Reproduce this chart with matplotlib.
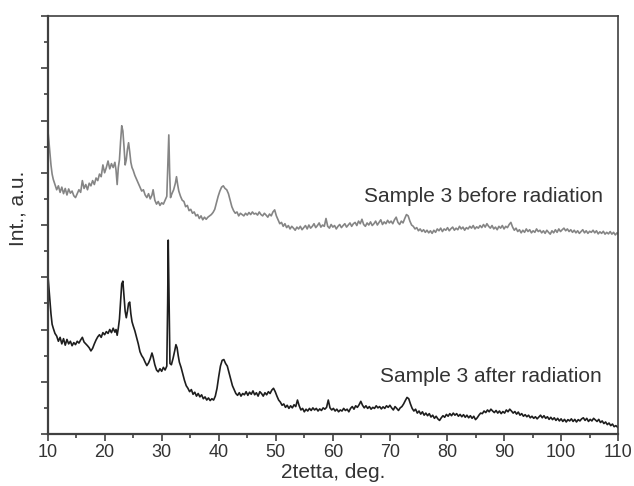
import numpy as np
import matplotlib.pyplot as plt
from matplotlib.ticker import MultipleLocator, NullFormatter

plt.rcParams['font.family'] = ['Liberation Sans', 'DejaVu Sans']

#угол 2theta и интенсивность - образец до облучения
tt_before = [10.0, 10.2, 10.4, 10.6, 10.8, 11.0, 11.3, 11.6, 11.9, 12.2, 12.5, 12.8, 13.1, 13.4, 13.7,
             14.0, 14.3, 14.6, 14.9, 15.2, 15.5, 15.8, 16.1, 16.4, 16.7, 17.0, 17.3, 17.6, 17.9, 18.2,
             18.5, 18.8, 19.1, 19.4, 19.7, 20.0, 20.3, 20.6, 20.9, 21.2, 21.5, 21.8, 22.0, 22.2, 22.4,
             22.6, 22.8, 23.0, 23.2, 23.4, 23.6, 23.8, 24.0, 24.2, 24.4, 24.6, 24.8, 25.0, 25.3, 25.6,
             25.9, 26.2, 26.5, 26.8, 27.1, 27.4, 27.7, 28.0, 28.3, 28.5, 28.8, 29.1, 29.4, 29.7, 30.0,
             30.3, 30.6, 30.9, 31.1, 31.25, 31.4, 31.55, 31.8, 32.1, 32.4, 32.6, 32.8, 33.0, 33.3, 33.6,
             33.9, 34.2, 34.5, 34.8, 35.1, 35.4, 35.7, 36.0, 36.3, 36.6, 36.9, 37.2, 37.5, 37.8, 38.1,
             38.4, 38.7, 39.0, 39.3, 39.6, 39.9, 40.2, 40.5, 40.8, 41.1, 41.4, 41.7, 42.0, 42.3, 42.6,
             42.9, 43.2, 43.5, 43.8, 44.1, 44.4, 44.7, 45.0, 45.3, 45.6, 45.9, 46.2, 46.5, 46.8, 47.1,
             47.4, 47.7, 48.0, 48.3, 48.6, 48.9, 49.2, 49.5, 49.8, 50.1, 50.4, 50.7, 51.0, 51.3, 51.6,
             51.9, 52.2, 52.5, 52.8, 53.1, 53.4, 53.7, 54.0, 54.3, 54.6, 54.9, 55.2, 55.5, 55.8, 56.1,
             56.4, 56.7, 57.0, 57.3, 57.6, 57.9, 58.2, 58.5, 58.8, 59.1, 59.4, 59.7, 60.0, 60.3, 60.6,
             60.9, 61.2, 61.5, 61.8, 62.1, 62.4, 62.7, 63.0, 63.3, 63.6, 63.9, 64.2, 64.5, 64.8, 65.1,
             65.4, 65.7, 66.0, 66.3, 66.6, 66.9, 67.2, 67.5, 67.8, 68.1, 68.4, 68.7, 69.0, 69.3, 69.6,
             69.9, 70.2, 70.5, 70.8, 71.1, 71.4, 71.7, 72.0, 72.3, 72.6, 72.9, 73.2, 73.5, 73.8, 74.1,
             74.4, 74.7, 75.0, 75.3, 75.6, 75.9, 76.2, 76.5, 76.8, 77.1, 77.4, 77.7, 78.0, 78.3, 78.6,
             78.9, 79.2, 79.5, 79.8, 80.1, 80.4, 80.7, 81.0, 81.3, 81.6, 81.9, 82.2, 82.5, 82.8, 83.1,
             83.4, 83.7, 84.0, 84.3, 84.6, 84.9, 85.2, 85.5, 85.8, 86.1, 86.4, 86.7, 87.0, 87.3, 87.6,
             87.9, 88.2, 88.5, 88.8, 89.1, 89.4, 89.7, 90.0, 90.3, 90.6, 90.9, 91.2, 91.5, 91.8, 92.1,
             92.4, 92.7, 93.0, 93.3, 93.6, 93.9, 94.2, 94.5, 94.8, 95.1, 95.4, 95.7, 96.0, 96.3, 96.6,
             96.9, 97.2, 97.5, 97.8, 98.1, 98.4, 98.7, 99.0, 99.3, 99.6, 99.9, 100.2, 100.5, 100.8, 101.1,
             101.4, 101.7, 102.0, 102.3, 102.6, 102.9, 103.2, 103.5, 103.8, 104.1, 104.4, 104.7, 105.0, 105.3, 105.6,
             105.9, 106.2, 106.5, 106.8, 107.1, 107.4, 107.7, 108.0, 108.3, 108.6, 108.9, 109.2, 109.5, 109.8, 110.0]
int_before = [11.75, 11.30, 10.80, 10.30, 9.95, 9.75, 9.55, 9.35, 9.50, 9.25, 9.45, 9.20, 9.40, 9.15, 9.38,
              9.22, 9.30, 9.12, 9.05, 9.20, 9.35, 9.25, 9.70, 9.40, 9.55, 9.35, 9.60, 9.50, 9.70, 9.55,
              9.80, 9.70, 9.95, 9.85, 10.30, 10.00, 10.20, 10.45, 10.15, 10.35, 10.20, 10.40, 10.10, 9.55, 10.20,
              10.50, 11.20, 11.80, 11.60, 11.00, 10.30, 10.50, 10.90, 11.15, 10.80, 10.40, 10.20, 10.10, 9.90, 9.75,
              9.60, 9.45, 9.30, 9.35, 9.15, 9.05, 9.20, 9.00, 9.15, 9.35, 8.95, 8.80, 8.90, 8.75, 8.85,
              8.80, 8.95, 9.10, 10.50, 11.45, 10.00, 9.05, 9.20, 9.35, 9.60, 9.85, 9.55, 9.30, 9.10, 8.95,
              8.90, 8.70, 8.75, 8.55, 8.60, 8.45, 8.50, 8.35, 8.40, 8.25, 8.35, 8.20, 8.30, 8.22, 8.30,
              8.35, 8.40, 8.48, 8.60, 8.85, 9.10, 9.30, 9.45, 9.50, 9.40, 9.35, 9.20, 8.95, 8.70, 8.55,
              8.45, 8.50, 8.35, 8.45, 8.40, 8.35, 8.45, 8.38, 8.48, 8.40, 8.50, 8.42, 8.45, 8.38, 8.50,
              8.40, 8.35, 8.45, 8.38, 8.30, 8.42, 8.35, 8.50, 8.58, 8.35, 8.20, 8.05, 8.10, 7.95, 8.05,
              7.90, 7.98, 7.85, 7.95, 7.88, 7.80, 7.92, 7.85, 7.95, 7.82, 7.90, 7.98, 7.85, 8.00, 7.88,
              7.95, 8.05, 7.90, 7.98, 8.08, 7.92, 8.00, 7.95, 8.25, 7.95, 7.88, 8.02, 7.92, 7.98, 7.85,
              7.95, 8.02, 7.90, 7.98, 8.05, 7.92, 8.00, 8.08, 7.95, 8.05, 8.10, 7.98, 8.15, 8.05, 8.22,
              8.02, 7.95, 8.08, 8.00, 8.12, 7.98, 8.05, 8.15, 8.00, 8.10, 8.20, 8.02, 8.12, 8.05, 8.18,
              8.08, 8.15, 8.05, 8.20, 8.30, 8.10, 8.02, 8.15, 8.08, 8.25, 8.40, 8.35, 8.15, 8.00, 7.95,
              7.85, 7.90, 7.78, 7.85, 7.75, 7.82, 7.72, 7.80, 7.70, 7.78, 7.68, 7.80, 7.72, 7.85, 7.78,
              7.88, 7.75, 7.85, 7.80, 7.90, 7.78, 7.86, 7.92, 7.80, 7.88, 7.82, 7.95, 7.85, 7.92, 7.80,
              7.90, 7.85, 7.95, 7.88, 7.98, 7.85, 7.93, 7.88, 7.98, 7.90, 8.02, 7.92, 8.05, 7.95, 7.88,
              7.98, 7.85, 7.92, 7.82, 7.95, 7.88, 7.98, 7.85, 7.95, 7.90, 8.02, 8.10, 7.92, 7.80, 7.88,
              7.75, 7.82, 7.70, 7.80, 7.72, 7.85, 7.75, 7.82, 7.70, 7.78, 7.72, 7.85, 7.75, 7.80, 7.70,
              7.78, 7.68, 7.80, 7.72, 7.65, 7.78, 7.70, 7.82, 7.72, 7.85, 7.75, 7.82, 7.88, 7.78, 7.85,
              7.75, 7.82, 7.72, 7.80, 7.70, 7.78, 7.68, 7.75, 7.82, 7.70, 7.78, 7.68, 7.76, 7.72, 7.80,
              7.70, 7.78, 7.66, 7.74, 7.68, 7.76, 7.65, 7.72, 7.66, 7.75, 7.65, 7.72, 7.62, 7.70, 7.66]

#образец после облучения
tt_after = [10.0, 10.2, 10.4, 10.6, 10.8, 11.0, 11.3, 11.6, 11.9, 12.2, 12.5, 12.8, 13.1, 13.4, 13.7,
            14.0, 14.3, 14.6, 14.9, 15.2, 15.5, 15.8, 16.1, 16.4, 16.7, 17.0, 17.3, 17.6, 17.9, 18.2,
            18.5, 18.8, 19.1, 19.4, 19.7, 20.0, 20.3, 20.6, 20.9, 21.2, 21.5, 21.8, 22.0, 22.2, 22.4,
            22.6, 22.8, 23.0, 23.2, 23.4, 23.6, 23.8, 24.0, 24.2, 24.4, 24.6, 24.8, 25.0, 25.3, 25.6,
            25.9, 26.2, 26.5, 26.8, 27.1, 27.4, 27.7, 28.0, 28.3, 28.5, 28.8, 29.1, 29.4, 29.7, 30.0,
            30.3, 30.6, 30.9, 31.05, 31.15, 31.3, 31.45, 31.7, 32.0, 32.3, 32.5, 32.7, 32.9, 33.1, 33.4,
            33.7, 34.0, 34.3, 34.6, 34.9, 35.2, 35.5, 35.8, 36.1, 36.4, 36.7, 37.0, 37.3, 37.6, 37.9,
            38.2, 38.5, 38.8, 39.1, 39.4, 39.7, 40.0, 40.3, 40.6, 40.9, 41.2, 41.5, 41.8, 42.1, 42.4,
            42.7, 43.0, 43.3, 43.6, 43.9, 44.2, 44.5, 44.8, 45.1, 45.4, 45.7, 46.0, 46.3, 46.6, 46.9,
            47.2, 47.5, 47.8, 48.1, 48.4, 48.7, 49.0, 49.3, 49.6, 49.9, 50.2, 50.5, 50.8, 51.1, 51.4,
            51.7, 52.0, 52.3, 52.6, 52.9, 53.2, 53.5, 53.8, 54.1, 54.4, 54.7, 55.0, 55.3, 55.6, 55.9,
            56.2, 56.5, 56.8, 57.1, 57.4, 57.7, 58.0, 58.3, 58.6, 58.9, 59.2, 59.5, 59.8, 60.1, 60.4,
            60.7, 61.0, 61.3, 61.6, 61.9, 62.2, 62.5, 62.8, 63.1, 63.4, 63.7, 64.0, 64.3, 64.6, 64.9,
            65.2, 65.5, 65.8, 66.1, 66.4, 66.7, 67.0, 67.3, 67.6, 67.9, 68.2, 68.5, 68.8, 69.1, 69.4,
            69.7, 70.0, 70.3, 70.6, 70.9, 71.2, 71.5, 71.8, 72.1, 72.4, 72.7, 73.0, 73.3, 73.6, 73.9,
            74.2, 74.5, 74.8, 75.1, 75.4, 75.7, 76.0, 76.3, 76.6, 76.9, 77.2, 77.5, 77.8, 78.1, 78.4,
            78.7, 79.0, 79.3, 79.6, 79.9, 80.2, 80.5, 80.8, 81.1, 81.4, 81.7, 82.0, 82.3, 82.6, 82.9,
            83.2, 83.5, 83.8, 84.1, 84.4, 84.7, 85.0, 85.3, 85.6, 85.9, 86.2, 86.5, 86.8, 87.1, 87.4,
            87.7, 88.0, 88.3, 88.6, 88.9, 89.2, 89.5, 89.8, 90.1, 90.4, 90.7, 91.0, 91.3, 91.6, 91.9,
            92.2, 92.5, 92.8, 93.1, 93.4, 93.7, 94.0, 94.3, 94.6, 94.9, 95.2, 95.5, 95.8, 96.1, 96.4,
            96.7, 97.0, 97.3, 97.6, 97.9, 98.2, 98.5, 98.8, 99.1, 99.4, 99.7, 100.0, 100.3, 100.6, 100.9,
            101.2, 101.5, 101.8, 102.1, 102.4, 102.7, 103.0, 103.3, 103.6, 103.9, 104.2, 104.5, 104.8, 105.1, 105.4,
            105.7, 106.0, 106.3, 106.6, 106.9, 107.2, 107.5, 107.8, 108.1, 108.4, 108.7, 109.0, 109.3, 109.6, 110.0]
int_after = [6.25, 5.70, 5.10, 4.60, 4.20, 4.05, 3.85, 3.75, 3.55, 3.70, 3.45, 3.65, 3.40, 3.62, 3.45,
             3.55, 3.38, 3.50, 3.42, 3.55, 3.48, 3.60, 3.70, 3.52, 3.45, 3.38, 3.30, 3.18, 3.28, 3.45,
             3.60, 3.72, 3.80, 3.70, 3.88, 3.80, 3.92, 3.85, 4.00, 3.88, 4.05, 3.90, 4.00, 3.78, 4.05,
             4.40, 5.10, 5.75, 5.85, 5.30, 4.70, 4.45, 4.70, 5.00, 5.05, 4.60, 4.30, 4.15, 3.95, 3.70,
             3.45, 3.15, 3.00, 2.90, 2.75, 2.62, 2.72, 2.88, 3.10, 2.95, 2.65, 2.45, 2.38, 2.50, 2.40,
             2.55, 2.45, 2.60, 5.00, 7.42, 5.20, 2.70, 2.65, 2.90, 3.20, 3.42, 3.30, 3.00, 2.75, 2.55,
             2.30, 2.05, 1.85, 1.75, 1.62, 1.70, 1.52, 1.60, 1.45, 1.55, 1.42, 1.50, 1.35, 1.42, 1.30,
             1.38, 1.28, 1.35, 1.30, 1.45, 1.75, 2.20, 2.60, 2.82, 2.85, 2.70, 2.60, 2.35, 2.10, 1.85,
             1.70, 1.55, 1.48, 1.58, 1.45, 1.55, 1.50, 1.62, 1.48, 1.60, 1.52, 1.65, 1.50, 1.58, 1.45,
             1.62, 1.55, 1.45, 1.58, 1.50, 1.62, 1.55, 1.68, 1.75, 1.62, 1.45, 1.30, 1.22, 1.10, 1.15,
             1.02, 1.10, 0.98, 1.08, 1.00, 1.12, 1.05, 1.30, 1.08, 0.92, 0.98, 0.85, 0.95, 0.88, 0.98,
             0.90, 1.00, 0.92, 0.98, 0.88, 0.96, 0.90, 1.00, 0.95, 1.02, 1.30, 1.00, 0.92, 0.98, 0.88,
             0.95, 0.85, 0.92, 0.88, 0.98, 0.90, 0.95, 0.85, 0.98, 1.05, 0.95, 1.08, 1.02, 1.12, 1.25,
             1.10, 1.00, 1.08, 0.98, 1.05, 0.95, 1.02, 0.98, 1.08, 1.00, 1.05, 0.96, 1.04, 0.98, 1.08,
             1.02, 1.10, 1.00, 0.92, 1.05, 0.98, 0.90, 1.00, 1.05, 1.15, 1.28, 1.40, 1.35, 1.15, 0.98,
             0.88, 0.95, 0.80, 0.88, 0.76, 0.85, 0.72, 0.80, 0.70, 0.78, 0.65, 0.72, 0.60, 0.68, 0.58,
             0.52, 0.62, 0.70, 0.64, 0.75, 0.68, 0.78, 0.70, 0.80, 0.72, 0.78, 0.68, 0.75, 0.66, 0.74,
             0.64, 0.72, 0.62, 0.70, 0.60, 0.68, 0.55, 0.62, 0.72, 0.80, 0.78, 0.88, 0.82, 0.92, 0.85,
             0.95, 0.88, 0.82, 0.90, 0.80, 0.88, 0.78, 0.86, 0.80, 0.92, 0.85, 0.95, 0.88, 0.80, 0.86,
             0.76, 0.84, 0.72, 0.78, 0.68, 0.74, 0.66, 0.72, 0.62, 0.68, 0.60, 0.66, 0.58, 0.65, 0.72,
             0.62, 0.70, 0.60, 0.66, 0.56, 0.64, 0.55, 0.62, 0.52, 0.60, 0.50, 0.58, 0.48, 0.56, 0.46,
             0.55, 0.50, 0.58, 0.48, 0.56, 0.46, 0.55, 0.50, 0.58, 0.62, 0.52, 0.60, 0.48, 0.56, 0.50,
             0.60, 0.54, 0.48, 0.56, 0.44, 0.50, 0.40, 0.46, 0.36, 0.42, 0.32, 0.38, 0.28, 0.32, 0.24]

fig = plt.figure(figsize=(6.34, 4.86), dpi=100)
ax = fig.add_axes([0.075, 0.107, 0.900, 0.860])

ax.plot(tt_before, int_before, '-', color='#858585', linewidth=1.2)
ax.plot(tt_after, int_after, '-', color='#1e1e1e', linewidth=1.2)

#подписи кривых
ax.text(107.4, 9.1, 'Sample 3 before radiation', fontsize=15, color='#333333', ha='right', va='center')
ax.text(107.1, 2.2, 'Sample 3 after radiation', fontsize=15, color='#333333', ha='right', va='center')

ax.set_xlim(10, 110)
ax.set_ylim(0, 16)
ax.xaxis.set_major_locator(MultipleLocator(10))
ax.xaxis.set_minor_locator(MultipleLocator(5))
ax.yaxis.set_major_locator(MultipleLocator(2))
ax.yaxis.set_minor_locator(MultipleLocator(1))
ax.yaxis.set_major_formatter(NullFormatter())

ax.tick_params(axis='both', which='major', direction='out', length=5, width=1.2, color='#404040',
               labelsize=13, labelcolor='#333333', pad=2)
ax.tick_params(axis='both', which='minor', direction='out', length=3, width=1.2, color='#404040')
for s in ax.spines.values():
    s.set_color('#404040')
    s.set_linewidth(1.2)
ax.spines['left'].set_linewidth(1.6)
ax.spines['bottom'].set_linewidth(1.6)

ax.set_xlabel('2tetta, deg.', fontsize=15, color='#333333', labelpad=2)
ax.set_ylabel('Int., a.u.', fontsize=15, color='#333333')
ax.yaxis.set_label_coords(-0.035, 0.54)

fig.savefig('out.png', dpi=100)
